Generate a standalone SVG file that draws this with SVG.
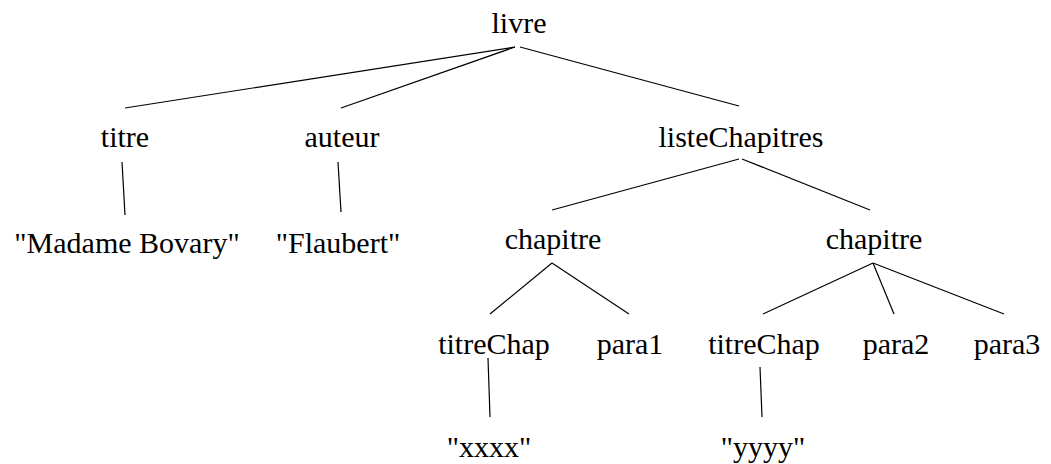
<svg xmlns="http://www.w3.org/2000/svg" width="1051" height="464" viewBox="0 0 1051 464">
<style>
text{font-family:"Liberation Serif","Times New Roman",serif;font-size:30px;fill:#000;text-anchor:middle}
line{stroke:#000;stroke-width:1.2}
</style>
<rect width="1051" height="464" fill="#fff"/>
<g id="connectors">
<line x1="515" y1="47" x2="125" y2="108"/>
<line x1="515" y1="47" x2="341" y2="108"/>
<line x1="520" y1="47" x2="739" y2="106"/>
<line x1="122" y1="162" x2="125" y2="215"/>
<line x1="338" y1="162" x2="341" y2="212"/>
<line x1="739" y1="159" x2="552" y2="210"/>
<line x1="742" y1="159" x2="870" y2="210"/>
<line x1="552" y1="263" x2="490" y2="314"/>
<line x1="552" y1="263" x2="629" y2="314"/>
<line x1="873" y1="263" x2="763" y2="314"/>
<line x1="873" y1="263" x2="894" y2="314"/>
<line x1="873" y1="263" x2="1004" y2="314"/>
<line x1="488" y1="358" x2="490" y2="417"/>
<line x1="760" y1="367" x2="762" y2="417"/>
</g>
<g id="livre"><text x="519" y="33">livre</text></g>
<g id="titre"><text x="125" y="147">titre</text></g>
<g id="auteur"><text x="342" y="147">auteur</text></g>
<g id="listeChapitres"><text x="741" y="147">listeChapitres</text></g>
<g id="madameBovary"><text x="127" y="253">"Madame Bovary"</text></g>
<g id="flaubert"><text x="338" y="253">"Flaubert"</text></g>
<g id="chapitre1"><text x="553" y="249">chapitre</text></g>
<g id="chapitre2"><text x="874" y="249">chapitre</text></g>
<g id="titreChap1"><text x="494" y="354">titreChap</text></g>
<g id="para1"><text x="630" y="354">para1</text></g>
<g id="titreChap2"><text x="764" y="354">titreChap</text></g>
<g id="para2"><text x="896" y="354">para2</text></g>
<g id="para3"><text x="1007" y="354">para3</text></g>
<g id="xxxx"><text x="489" y="457">"xxxx"</text></g>
<g id="yyyy"><text x="763" y="457">"yyyy"</text></g>
</svg>
